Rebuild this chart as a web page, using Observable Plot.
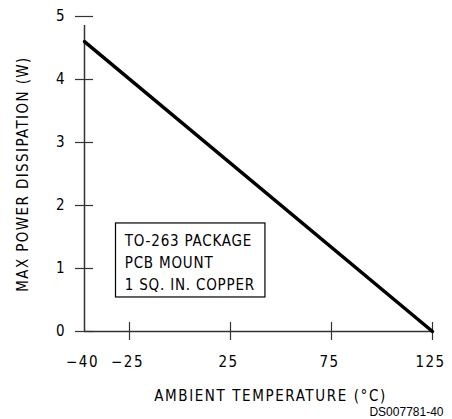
<!DOCTYPE html>
<html>
<head>
<meta charset="utf-8">
<script src="https://cdn.jsdelivr.net/npm/d3@7"></script>
<script src="https://cdn.jsdelivr.net/npm/@observablehq/plot@0.6"></script>
<style>
  html, body { margin: 0; padding: 0; background: #fff; }
  #chart svg { display: block; }
</style>
</head>
<body>
<div id="chart"></div>
<script>
// Data
const temperature = [-40, 125];          // ambient temperature (°C)
const maxPower = [4.6, 0];               // max power dissipation (W)
const xTicks = [-40, -25, 25, 75, 125];
const xTickLabels = ["\u221240", "\u221225", "25", "75", "125"];
const yTicks = [0, 1, 2, 3, 4, 5];
const yTickLabels = ["0", "1", "2", "3", "4", "5"];
const noteLines = ["TO-263 PACKAGE", "PCB MOUNT", "1 SQ. IN. COPPER"];
const xLabel = "AMBIENT TEMPERATURE (\u00B0C)";
const yLabel = "MAX POWER DISSIPATION (W)";
const figCode = "DS007781-40";

const curve = temperature.map((t, i) => ({t, p: maxPower[i]}));
const xTickData = xTicks.map((v, i) => ({v, label: xTickLabels[i]}));
const yTickData = yTicks.map((v, i) => ({v, label: yTickLabels[i]}));

const font = "'DejaVu Sans Condensed', 'Liberation Sans Narrow', 'DejaVu Sans', sans-serif";
const axisColor = "#333";

const chart = Plot.plot({
  width: 452,
  height: 419,
  marginLeft: 84,
  marginRight: 20,
  marginTop: 16,
  marginBottom: 88,
  style: {fontFamily: font, background: "#fff", color: "#000"},
  x: {type: "linear", domain: [-40, -25, 125], range: [84, 129, 432], axis: null},
  y: {domain: [0, 5], axis: null},
  marks: [
    // axes lines
    Plot.ruleX([-40], {y1: 0, y2: 5, insetBottom: -9, stroke: axisColor, strokeWidth: 1.5}),
    Plot.ruleY([0], {x1: -40, x2: 125, stroke: axisColor, strokeWidth: 1.5}),
    // y cross ticks
    Plot.ruleY(yTicks, {y: d => d, x1: -40, x2: -40, insetLeft: -9, insetRight: -9, stroke: axisColor, strokeWidth: 1.2}),
    // x cross ticks
    Plot.ruleX(xTicks.filter(d => d !== -40), {x: d => d, y1: 0, y2: 0, insetTop: -9, insetBottom: -9, stroke: axisColor, strokeWidth: 1.2}),
    // tick labels
    Plot.text(yTickData, {x: -40, y: "v", text: "label", dx: -20, textAnchor: "end", lineAnchor: "middle", fontSize: 15, fill: "#000"}),
    Plot.text(xTickData, {x: "v", y: 0, text: "label", dy: 31, lineAnchor: "middle", fontSize: 15, fill: "#000", dx: -2}),
    // curve
    Plot.line(curve, {x: "t", y: "p", stroke: "#000", strokeWidth: 3.5}),
    // note box
    Plot.rect([0], {x1: -29.5, x2: 42.3, y1: 0.54, y2: 1.715, fill: "#fff", stroke: "#000", strokeWidth: 1.2}),
    Plot.text([noteLines.join("\n")], {x: -26.6, y: 1.127, textAnchor: "start", lineAnchor: "middle", lineHeight: 1.47, fontSize: 15, fill: "#000"}),
    // axis labels
    Plot.text([xLabel], {frameAnchor: "bottom", dx: 12, dy: 65, textAnchor: "middle", lineAnchor: "middle", fontSize: 15, fill: "#000"}),
    Plot.text([yLabel], {frameAnchor: "left", dx: -61, rotate: -90, textAnchor: "middle", lineAnchor: "middle", fontSize: 15, fill: "#000"}),
    Plot.text([figCode], {frameAnchor: "bottom-right", dx: 11, dy: 81, textAnchor: "end", lineAnchor: "middle", fontSize: 12, fontFamily: "'Liberation Sans', Arial, sans-serif", fill: "#000"})
  ]
});

// stencil-like wide letter spacing for the drawing lettering
d3.select(chart).selectAll("text").each(function() {
  const t = d3.select(this);
  const s = t.text();
  if (s === figCode) return;
  if (s === xLabel) t.attr("letter-spacing", 1.6);
  else if (s === yLabel) t.attr("letter-spacing", 1.4);
  else if (xTickLabels.includes(s)) t.attr("letter-spacing", 1.5);
});
d3.select(chart).selectAll("tspan").each(function() {
  const t = d3.select(this);
  if (noteLines.includes(t.text())) t.attr("letter-spacing", 0.8);
});

document.getElementById("chart").appendChild(chart);
</script>
</body>
</html>
